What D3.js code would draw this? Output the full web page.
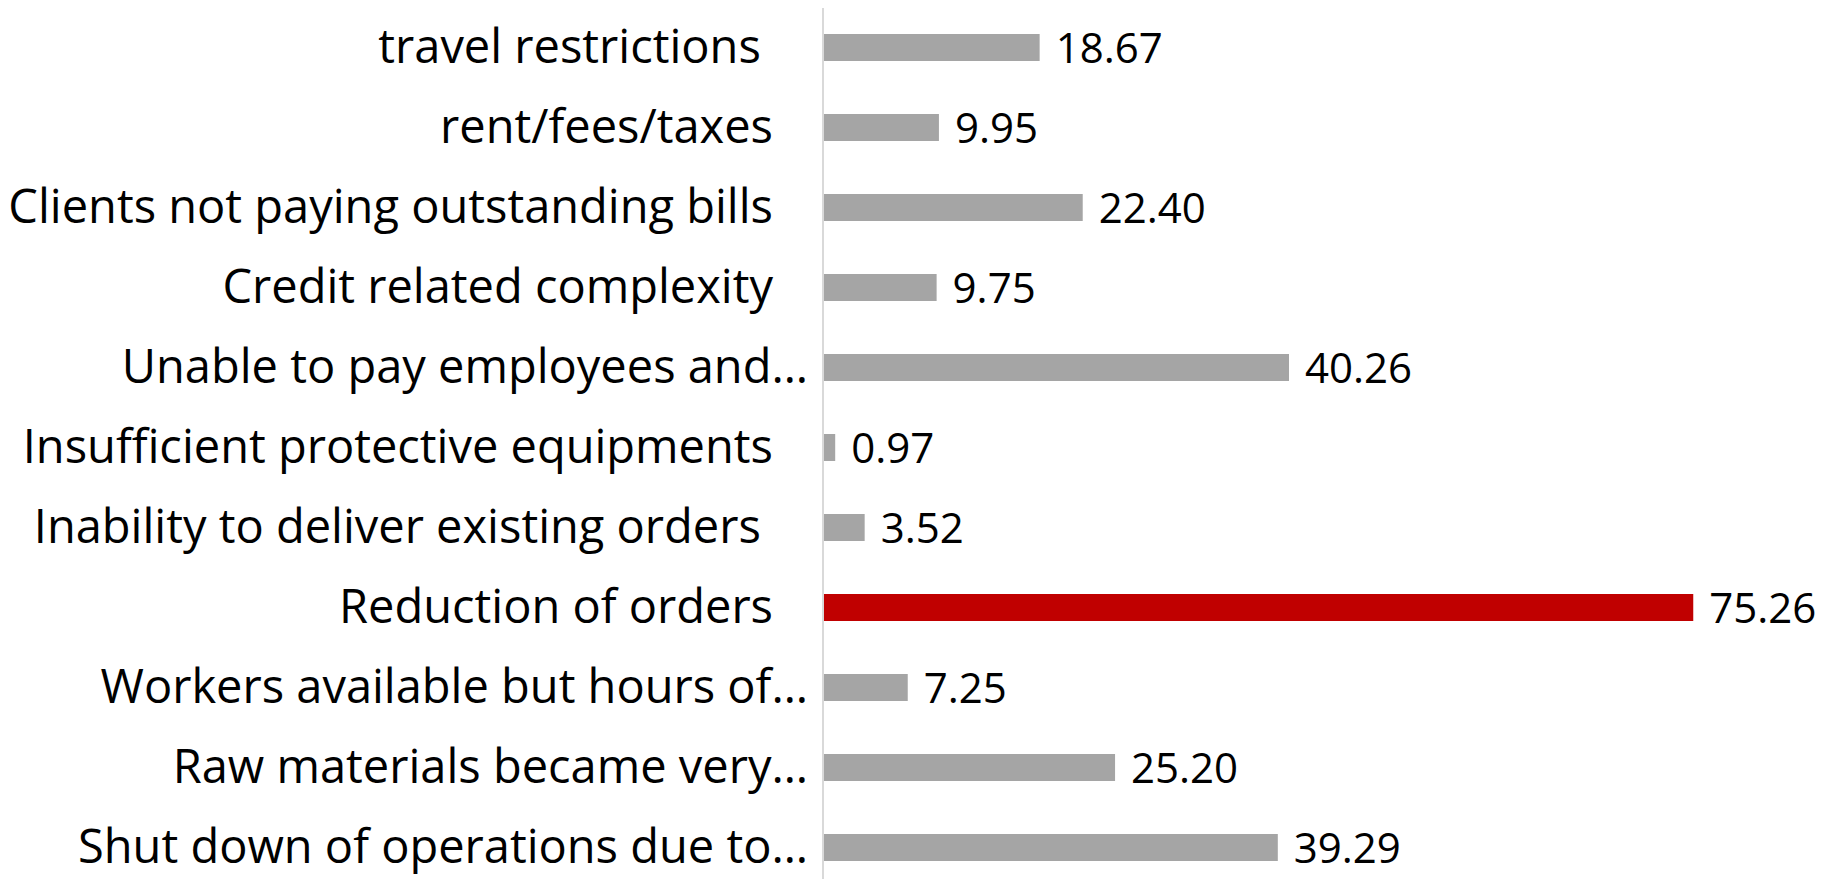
<!DOCTYPE html>
<html lang="en">
<head>
  <meta charset="utf-8" />
  <title>Problems faced</title>
  <script src="https://cdn.jsdelivr.net/npm/d3@7"></script>
  <style>
    body { margin: 0; background: #fff; }
    svg text { font-family: "Open Sans", "Noto Sans", sans-serif; white-space: pre; }
  </style>
</head>
<body>
  <div id="chart"></div>
  <script>
    const w = 1823;
    const h = 879;

    // categories, top to bottom as shown
    const categories = [
      "travel restrictions ",
      "rent/fees/taxes",
      "Clients not paying outstanding bills",
      "Credit related complexity",
      "Unable to pay employees and…",
      "Insufficient protective equipments",
      "Inability to deliver existing orders ",
      "Reduction of orders",
      "Workers available but hours of…",
      "Raw materials became very…",
      "Shut down of operations due to…"
    ];
    const values = [18.67, 9.95, 22.40, 9.75, 40.26, 0.97, 3.52, 75.26, 7.25, 25.20, 39.29];
    const highlight = "Reduction of orders";

    const data = categories.map((c, i) => ({ cat: c, value: values[i] }));

    const axisX = 824;

    const x = d3.scaleLinear().domain([0, 80]).range([axisX, axisX + 924]);
    const y = d3.scaleBand()
      .domain(categories)
      .range([7.5, 887.5])
      .paddingInner(0.6625)
      .paddingOuter(0.33125);

    const svg = d3.select("#chart").append("svg")
      .attr("width", w)
      .attr("height", h);

    // bars
    svg.selectAll("rect.bar")
      .data(data)
      .enter()
      .append("rect")
      .attr("class", "bar")
      .attr("x", x(0))
      .attr("y", d => y(d.cat))
      .attr("width", d => x(d.value) - x(0))
      .attr("height", y.bandwidth())
      .attr("fill", d => d.cat === highlight ? "#c00000" : "#a5a5a5");

    // vertical axis line
    svg.append("line")
      .attr("x1", axisX - 1).attr("x2", axisX - 1)
      .attr("y1", 8).attr("y2", h)
      .attr("stroke", "#d9d9d9")
      .attr("stroke-width", 2);

    // category labels
    svg.selectAll("text.cat")
      .data(data)
      .enter()
      .append("text")
      .attr("class", "cat")
      .attr("x", d => d.cat.endsWith("…") ? axisX - 16 : axisX - 51)
      .attr("y", d => y(d.cat) + y.bandwidth() / 2 + 15)
      .attr("text-anchor", "end")
      .attr("font-size", 47)
      .attr("fill", "#000")
      .text(d => d.cat);

    // value labels
    svg.selectAll("text.val")
      .data(data)
      .enter()
      .append("text")
      .attr("class", "val")
      .attr("x", d => x(d.value) + 16)
      .attr("y", d => y(d.cat) + y.bandwidth() / 2 + 15)
      .attr("font-size", 42)
      .attr("fill", "#000")
      .text(d => d3.format(".2f")(d.value));
  </script>
</body>
</html>
